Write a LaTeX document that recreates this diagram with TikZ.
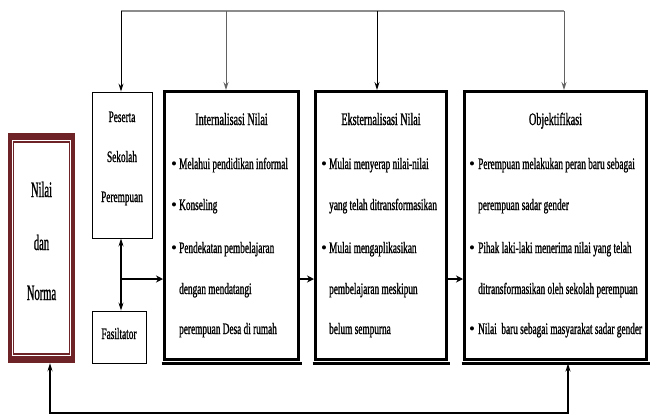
\documentclass[tikz,border=0pt]{standalone}
\usepackage{fontspec}
\setmainfont[FakeStretch=0.58,FakeBold=1]{Liberation Serif}
\newfontfamily\nilaifont[FakeStretch=0.48,FakeBold=1]{Liberation Serif}
\newfontfamily\bulfont{Liberation Serif}
\usetikzlibrary{arrows.meta}
\definecolor{maroon}{RGB}{110,36,38}
\definecolor{topgray}{RGB}{140,140,140}
\begin{document}
\begin{tikzpicture}[x=1pt,y=-1pt,
  thinbox/.style={draw, line width=0.9pt, fill=white, inner sep=0pt},
  thickbox/.style={draw, line width=3pt, fill=white, inner sep=0pt},
  nilaibox/.style={fill=maroon, inner sep=0pt},
  txt/.style={anchor=base west, inner sep=0pt, font=\fontsize{16}{19}\selectfont},
  bul/.style={anchor=base west, inner sep=0pt, font=\bulfont\fontsize{17}{19}\selectfont},
  ctxt/.style={anchor=base, inner sep=0pt, font=\fontsize{16}{19}\selectfont},
  ttxt/.style={anchor=base, inner sep=0pt, font=\fontsize{17.5}{20}\selectfont},
  ntxt/.style={anchor=base, inner sep=0pt, font=\nilaifont\fontsize{22}{25}\selectfont},
  arr/.style={-{Stealth[length=8pt,width=5pt]}, line width=1pt},
  garr/.style={arr, topgray!70!black},
  dblarr/.style={{Stealth[length=8pt,width=5pt]}-{Stealth[length=8pt,width=5pt]}, line width=1.2pt},
  bigarr/.style={-{Stealth[length=7pt,width=7pt]}, line width=2.5pt},
  botarr/.style={{Stealth[length=8pt,width=5pt]}-{Stealth[length=8pt,width=5pt]}, line width=1.5pt},
  shadowline/.style={line width=3pt}
]
\useasboundingbox (0,0) rectangle (651,418);

% Nilai dan Norma box (maroon frame with inner rule)
\node[nilaibox, minimum width=67pt, minimum height=230pt] (nilai) at (41.5,248) {};
\fill[white] ([shift={(4,7.5)}]nilai.north west) rectangle ([shift={(-4,-7.5)}]nilai.south east);
\fill[maroon] ([shift={(5,8.5)}]nilai.north west) rectangle ([shift={(-5,-8.5)}]nilai.south east);
\fill[white] ([shift={(6.5,10.5)}]nilai.north west) rectangle ([shift={(-6.5,-10)}]nilai.south east);

% other boxes
\node[thinbox, minimum width=60pt, minimum height=146pt] (pes) at (122,165) {};
\node[thinbox, minimum width=54pt, minimum height=52pt] (fas) at (119,337) {};
\node[thickbox, minimum width=134pt, minimum height=268pt] (int) at (231.5,225.5) {};
\node[thickbox, minimum width=131pt, minimum height=268pt] (eks) at (381,225.5) {};
\node[thickbox, minimum width=182pt, minimum height=268pt] (obj) at (555.5,225.5) {};
\foreach \b in {int,eks,obj}{
  \draw[shadowline] ([shift={(-1.5,2.5)}]\b.south west) -- ([shift={(1.5,2.5)}]\b.south east);
}

% top connectors
\coordinate (t1) at (121,11);
\coordinate (t2) at (226,11);
\coordinate (t3) at (377,11);
\coordinate (t4) at (564,11);
\draw[topgray, line width=2.8pt] (t1) -- (t4);
\draw[arr] (t1) -- (t1 |- pes.north);
\draw[garr] (t2) -- (t2 |- int.north);
\draw[arr] (t3) -- (t3 |- eks.north);
\draw[garr] (t4) -- (t4 |- obj.north);

% bottom connector
\coordinate (b1) at (50,413);
\coordinate (b2) at (568,413);
\draw[botarr] (b1 |- nilai.south) -- (b1) -- (b2) -- ([yshift=-2.5pt]b2 |- obj.south);

% middle connectors
\coordinate (j) at (121,279);
\draw[dblarr] (pes.south -| j) -- (fas.north -| j);
\draw[bigarr] (j) -- (j -| int.west);
\draw[bigarr] (int.east |- j) -- (eks.west |- j);
\draw[bigarr] (eks.east |- j) -- (obj.west |- j);

% Nilai dan Norma
\node[ntxt] (n1) at (41.5,197) {Nilai};
\node[ntxt] (n2) at (41.5,250) {dan};
\node[ntxt] (n3) at (41.5,300) {Norma};

% Peserta
\node[ctxt] (p1) at (122,122) {Peserta};
\node[ctxt] (p2) at (122,162) {Sekolah};
\node[ctxt] (p3) at (122,202) {Perempuan};
\node[ctxt] (f1) at (119,339) {Fasiltator};

% Internalisasi
\node[ttxt] (it) at (231.5,125) {Internalisasi Nilai};
\node[bul] (ib1) at (171,169) {•};
\node[txt] (i1) at (179,169) {Melahui pendidikan informal};
\node[bul] (ib2) at (171,210) {•};
\node[txt] (i2) at (179,210) {Konseling};
\node[bul] (ib3) at (171,253) {•};
\node[txt] (i3) at (179,253) {Pendekatan pembelajaran};
\node[txt] (i4) at (179,294) {dengan mendatangi};
\node[txt] (i5) at (179,334) {perempuan Desa di rumah};

% Eksternalisasi
\node[ttxt] (et) at (381,125) {Eksternalisasi Nilai};
\node[bul] (eb1) at (321,169) {•};
\node[txt] (e1) at (329,169) {Mulai menyerap nilai-nilai};
\node[txt] (e2) at (329,210) {yang telah ditransformasikan};
\node[bul] (eb3) at (321,253) {•};
\node[txt] (e3) at (329,253) {Mulai mengaplikasikan};
\node[txt] (e4) at (329,294) {pembelajaran meskipun};
\node[txt] (e5) at (329,334) {belum sempurna};

% Objektifikasi
\node[ttxt] (ot) at (555.5,125) {Objektifikasi};
\node[bul] (ob1) at (469,169) {•};
\node[txt] (o1) at (478,169) {Perempuan melakukan peran baru sebagai};
\node[txt] (o2) at (478,210) {perempuan sadar gender};
\node[bul] (ob3) at (469,253) {•};
\node[txt] (o3) at (478,253) {Pihak laki-laki menerima nilai yang telah};
\node[txt] (o4) at (478,294) {ditransformasikan oleh sekolah perempuan};
\node[bul] (ob5) at (469,334) {•};
\node[txt] (o5) at (478,334) {Nilai\ \ baru sebagai masyarakat sadar gender};
\end{tikzpicture}
\end{document}
